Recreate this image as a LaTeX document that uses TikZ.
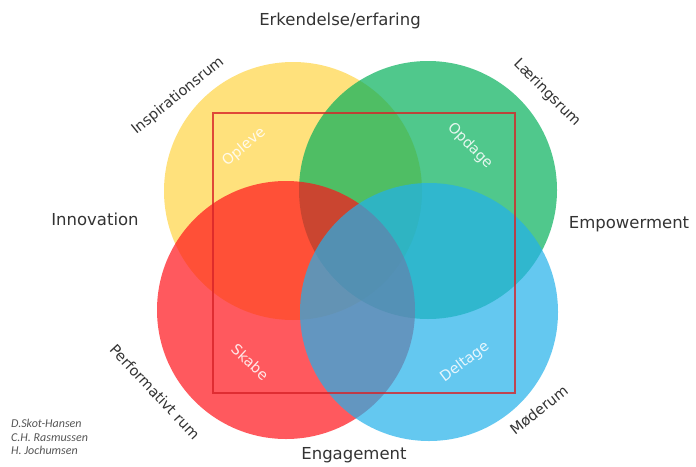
\documentclass[tikz,border=0pt]{standalone}
\usepackage{fontspec}
\setmainfont{DejaVu Sans}
\newfontfamily\forfatterfont{Carlito}
\definecolor{gul}{RGB}{255,212,69}
\definecolor{groen}{RGB}{5,176,91}
\definecolor{roed}{RGB}{255,19,26}
\definecolor{blaa}{RGB}{34,176,234}
\definecolor{ramme}{RGB}{215,35,40}
\definecolor{tekst}{RGB}{51,51,51}
\definecolor{forfatter}{RGB}{85,85,85}

\begin{document}
\begin{tikzpicture}[x=1pt, y=-1pt]
\tikzset{cirkel/.style={circle, minimum size=258pt, inner sep=0pt, fill opacity=0.7}}
\tikzset{akse/.style={text=tekst, inner sep=0pt, font=\fontsize{16.5}{18}\selectfont}}
\tikzset{rum/.style={text=tekst, inner sep=0pt, font=\fontsize{14.5}{16}\selectfont}}
\tikzset{felt/.style={text=white, text opacity=0.85, inner sep=0pt, font=\fontsize{14.5}{16}\selectfont}}
\useasboundingbox (0,0) rectangle (696,466);
% de fire rum
\node[cirkel, fill=gul] (C1) at (293,191) {};
\node[cirkel, fill=groen] (C2) at (428,190) {};
\node[cirkel, fill=roed] (C3) at (286,310) {};
\node[cirkel, fill=blaa] (C4) at (429,312) {};
\draw[ramme, line width=1.2pt, draw opacity=0.8] (213,113) rectangle (515,393);
% akser
\node[akse] (A1) at (340,21) {Erkendelse/erfaring};
\node[akse] (A2) at (95,219) {Innovation};
\node[akse] (A3) at (629,224) {Empowerment};
\node[akse] (A4) at (354,455) {Engagement};
% rum
\node[rum, rotate=39] (R1) at (178,96) {Inspirationsrum};
\node[rum, rotate=-45] (R2) at (547,93) {Læringsrum};
\node[rum, rotate=-47] (R3) at (155,392) {Performativt rum};
\node[rum, rotate=38] (R4) at (539,410) {Møderum};
% felter
\node[felt, rotate=40] (F1) at (244,147) {Opleve};
\node[felt, rotate=-45] (F2) at (470,146) {Opdage};
\node[felt, rotate=-43] (F3) at (250,362) {Skabe};
\node[felt, rotate=37] (F4) at (465,362) {Deltage};
% forfattere
\node[anchor=west, align=left, inner sep=0pt, text=forfatter,
  font=\forfatterfont\itshape\fontsize{12}{13.5}\selectfont] (N) at (11,437)
  {D.Skot-Hansen\\C.H. Rasmussen\\H. Jochumsen};
\end{tikzpicture}
\end{document}
